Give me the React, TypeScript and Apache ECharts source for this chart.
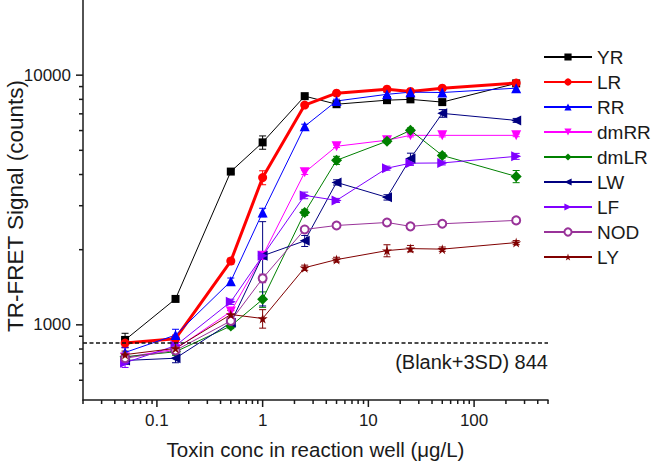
import React, { useEffect, useRef } from 'react';
import * as echarts from 'echarts';

// ---- data ----
const X = [0.05, 0.15, 0.5, 1, 2.5, 5, 15, 25, 50, 250];

const YR = [870, 1270, 4110, 5380, 8240, 7650, 7940, 8000, 7800, 9270];
const LR = [845, 880, 1800, 3890, 7590, 8470, 8790, 8600, 8870, 9300];
const RR = [775, 910, 1495, 2820, 6240, 7880, 8380, 8550, 8520, 8870];
const dmRR = [740, 800, 1130, 1890, 4080, 5190, 5490, 5740, 5740, 5740];
const dmLR = [745, 780, 990, 1265, 2820, 4560, 5440, 6010, 4770, 3930];
const LW = [720, 735, 1020, 1890, 2170, 3720, 3240, 4640, 7030, 6590];
const LF = [705, 825, 1237, 1890, 3300, 3150, 4240, 4440, 4450, 4730];
const NOD = [735, 790, 1037, 1535, 2410, 2500, 2570, 2480, 2540, 2620];
const LY = [760, 805, 1100, 1060, 1694, 1825, 1983, 2020, 2010, 2135];

const YR_ERR = [55, 25, 70, 330, 120, 110, 130, 140, 180, 150];
const LR_ERR = [35, 30, 50, 250, 120, 120, 120, 130, 140, 160];
const RR_ERR = [35, 50, 45, 110, 120, 130, 160, 170, 180, 300];
const dmRR_ERR = [20, 20, 30, 60, 80, 60, 70, 80, 80, 70];
const dmLR_ERR = [25, 25, 25, 90, 80, 170, 100, 140, 110, 220];
const LW_ERR = [25, 30, 30, 700, 110, 90, 80, 230, 250, 120];
const LF_ERR = [30, 25, 30, 60, 100, 60, 80, 90, 80, 130];
const NOD_ERR = [25, 25, 25, 60, 50, 50, 60, 60, 50, 70];
const LY_ERR = [25, 25, 40, 90, 40, 40, 110, 60, 40, 40];

const BLANK = 844;
const BLANK_LABEL = '(Blank+3SD) 844';

const X_MIN = 0.02;
const X_MAX = 500;
const Y_MIN = 500;
const Y_MAX = 20000;

const X_MAJOR = [0.1, 1, 10, 100];
const Y_MAJOR = [1000, 10000];
const X_MINOR = [0.02, 0.03, 0.04, 0.05, 0.06, 0.07, 0.08, 0.09,
  0.2, 0.3, 0.4, 0.5, 0.6, 0.7, 0.8, 0.9,
  2, 3, 4, 5, 6, 7, 8, 9,
  20, 30, 40, 50, 60, 70, 80, 90,
  200, 300, 400, 500];
const Y_MINOR = [600, 700, 800, 900, 2000, 3000, 4000, 5000, 6000, 7000, 8000, 9000];

const X_TITLE = 'Toxin conc in reaction well (μg/L)';
const Y_TITLE = 'TR-FRET Signal (counts)';

const STAR = 'path://M50,0 L61,35 L98,35 L68,57 L79,91 L50,70 L21,91 L32,57 L2,35 L39,35 Z';
const TRI_DOWN = 'path://M0,0 L10,0 L5,9 Z';
const TRI_LEFT = 'path://M9,0 L9,10 L0,5 Z';
const TRI_RIGHT = 'path://M0,0 L0,10 L9,5 Z';

const SERIES = [
  { name: 'YR', data: YR, err: YR_ERR, color: '#000000', symbol: 'rect', size: 8, width: 1 },
  { name: 'LR', data: LR, err: LR_ERR, color: '#ff0000', symbol: 'circle', size: 9, width: 3 },
  { name: 'RR', data: RR, err: RR_ERR, color: '#0000ff', symbol: 'triangle', size: 10, width: 1 },
  { name: 'dmRR', data: dmRR, err: dmRR_ERR, color: '#ff00ff', symbol: TRI_DOWN, size: 10, width: 1 },
  { name: 'dmLR', data: dmLR, err: dmLR_ERR, color: '#008000', symbol: 'diamond', size: 11, width: 1 },
  { name: 'LW', data: LW, err: LW_ERR, color: '#000080', symbol: TRI_LEFT, size: 10, width: 1 },
  { name: 'LF', data: LF, err: LF_ERR, color: '#8000ff', symbol: TRI_RIGHT, size: 10, width: 1 },
  { name: 'NOD', data: NOD, err: NOD_ERR, color: '#993399', symbol: 'emptyCircle', size: 8, width: 1 },
  { name: 'LY', data: LY, err: LY_ERR, color: '#800000', symbol: STAR, size: 10, width: 1 },
];

const FONT = "'Liberation Sans', Arial, sans-serif";
const INK = '#1a1a1a';

const isPow10 = (v: number) => Math.abs(Math.log10(v) - Math.round(Math.log10(v))) < 1e-6;

function tickSeries(vals: number[], axis: 'x' | 'y', len: number) {
  return {
    type: 'custom',
    silent: true,
    z: 6,
    data: vals.map((v) => (axis === 'x' ? [v, Y_MIN] : [X_MIN, v])),
    encode: { x: 0, y: 1 },
    renderItem: (_p: any, api: any) => {
      const c = api.coord([api.value(0), api.value(1)]);
      const shape = axis === 'x'
        ? { x1: c[0], y1: c[1], x2: c[0], y2: c[1] + len }
        : { x1: c[0] - len, y1: c[1], x2: c[0], y2: c[1] };
      return { type: 'line', shape, style: { stroke: INK, lineWidth: 1.5 } };
    },
  };
}

function errSeries(s: any) {
  return {
    type: 'custom',
    name: s.name + '_err',
    silent: true,
    z: 3,
    data: X.map((x, i) => [x, s.data[i] - s.err[i], s.data[i] + s.err[i]]),
    encode: { x: 0, y: [1, 2] },
    renderItem: (_p: any, api: any) => {
      const lo = api.coord([api.value(0), api.value(1)]);
      const hi = api.coord([api.value(0), api.value(2)]);
      const w = 3.5;
      const st = { stroke: s.color, lineWidth: 1 };
      return {
        type: 'group',
        children: [
          { type: 'line', shape: { x1: lo[0], y1: lo[1], x2: hi[0], y2: hi[1] }, style: st },
          { type: 'line', shape: { x1: lo[0] - w, y1: lo[1], x2: lo[0] + w, y2: lo[1] }, style: st },
          { type: 'line', shape: { x1: hi[0] - w, y1: hi[1], x2: hi[0] + w, y2: hi[1] }, style: st },
        ],
      };
    },
  };
}

export default function App() {
  const ref = useRef<HTMLDivElement>(null);
  useEffect(() => {
    const chart = echarts.init(ref.current!, null, { renderer: 'svg' });
    const lineSeries = SERIES.map((s, idx) => ({
      type: 'line',
      name: s.name,
      data: X.map((x, i) => [x, s.data[i]]),
      symbol: s.symbol,
      symbolSize: s.size,
      z: 4,
      lineStyle: { color: s.color, width: s.width },
      itemStyle: { color: s.color, borderColor: s.color, borderWidth: s.symbol === 'emptyCircle' ? 1.2 : 0 },
      emphasis: { disabled: true },
      ...(idx === 0
        ? {
            markLine: {
              silent: true,
              symbol: 'none',
              label: { show: false },
              lineStyle: { color: '#111', type: [4, 2.5], width: 1.5 },
              data: [{ yAxis: BLANK }],
            },
          }
        : {}),
    }));

    const option: any = {
      animation: false,
      backgroundColor: '#ffffff',
      textStyle: { fontFamily: FONT },
      grid: { left: 83, right: 106, top: 0, bottom: 62, containLabel: false, outerBoundsMode: 'none' },
      xAxis: {
        type: 'log',
        logBase: 10,
        min: X_MIN,
        max: X_MAX,
        name: X_TITLE,
        nameLocation: 'middle',
        nameGap: 39,
        nameTextStyle: { fontFamily: FONT, fontSize: 20.5, color: INK },
        axisLine: { show: true, lineStyle: { color: INK, width: 1.5 } },
        axisTick: { show: false },
        splitLine: { show: false },
        axisLabel: {
          fontFamily: FONT,
          fontSize: 17,
          color: INK,
          margin: 12,
          formatter: (v: number) => (isPow10(v) ? String(v) : ''),
        },
      },
      yAxis: {
        type: 'log',
        logBase: 10,
        min: Y_MIN,
        max: Y_MAX,
        name: Y_TITLE,
        nameLocation: 'middle',
        nameGap: 56,
        nameMoveOverlap: false,
        nameTextStyle: { fontFamily: FONT, fontSize: 22.5, color: INK, padding: [0, 12, 0, 0] },
        axisLine: { show: true, lineStyle: { color: INK, width: 1.5 } },
        axisTick: { show: false },
        splitLine: { show: false },
        axisLabel: {
          fontFamily: FONT,
          fontSize: 17,
          color: INK,
          margin: 12,
          formatter: (v: number) => (isPow10(v) ? String(Math.round(v)) : ''),
        },
      },
      legend: {
        orient: 'vertical',
        left: 543,
        top: 47,
        padding: 0,
        itemWidth: 48,
        itemHeight: 9,
        itemGap: 5,
        data: SERIES.map((s) => s.name),
        textStyle: { fontFamily: FONT, fontSize: 19, color: INK, lineHeight: 20 },
        selectedMode: false,
      },
      graphic: [
        {
          type: 'text',
          x: 548,
          y: 362,
          style: {
            text: BLANK_LABEL,
            font: `20px ${FONT}`,
            fill: INK,
            textAlign: 'right',
            textVerticalAlign: 'middle',
          },
        },
      ],
      series: [
        ...SERIES.map(errSeries),
        ...lineSeries,
        tickSeries(X_MAJOR, 'x', 7),
        tickSeries(X_MINOR, 'x', 4),
        tickSeries(Y_MAJOR, 'y', 7),
        tickSeries(Y_MINOR, 'y', 4),
      ],
    };
    chart.setOption(option);
    return () => chart.dispose();
  }, []);
  return (
    <div
      ref={ref}
      style={{ position: 'fixed', left: 0, top: 0, width: 654, height: 462, background: '#fff' }}
    />
  );
}
